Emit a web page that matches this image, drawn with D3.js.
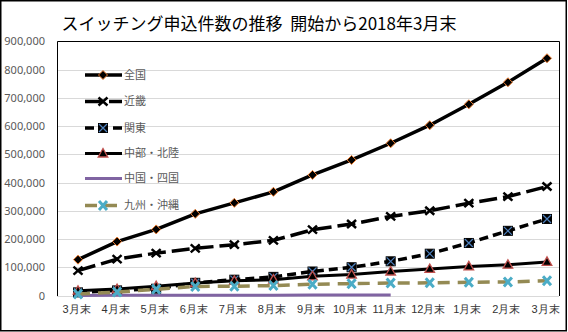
<!DOCTYPE html>
<html>
<head>
<meta charset="utf-8">
<script src="https://cdn.jsdelivr.net/npm/d3@7"></script>
<style>
  html, body { margin: 0; padding: 0; background: #fff; }
  svg { display: block; font-family: "Noto Sans CJK JP", "Noto Sans", sans-serif; }
</style>
</head>
<body>
<svg id="chart" width="568" height="332"></svg>
<script>
// months, end of each month
var months = ["3月末","4月末","5月末","6月末","7月末","8月末","9月末","10月末","11月末","12月末","1月末","2月末","3月末"];

var zenkoku   = [127000, 191000, 234000, 289000, 328000, 367000, 427000, 480000, 539000, 603000, 677000, 755000, 840000];
var kinki     = [88000, 129000, 150000, 167000, 180000, 195000, 233000, 253000, 280000, 300000, 327000, 350000, 386000];
var kanto     = [11000, 18000, 24000, 45000, 56000, 66000, 85000, 100000, 121000, 148000, 186000, 229000, 271000];
var chubu     = [17000, 23000, 33000, 44000, 52000, 56000, 68000, 74000, 85000, 94000, 103000, 109000, 119000];
var chugoku   = [300, 500, 700, 900, 1100, 1300, 1500, 1700, 1900, null, null, null, null];
var kyushu    = [5000, 12000, 22000, 32000, 33000, 35000, 40000, 42000, 44000, 45000, 47000, 48000, 52000];

var yTicks = [0, 100000, 200000, 300000, 400000, 500000, 600000, 700000, 800000, 900000];

var series = [
  {name: "全国",       values: zenkoku, color: "#000", width: 3.5, dash: null,   marker: "diamond"},
  {name: "近畿",       values: kinki,   color: "#000", width: 3.5, dash: "18,6", marker: "cross"},
  {name: "関東",       values: kanto,   color: "#000", width: 3.5, dash: "9,5",  marker: "square"},
  {name: "中部・北陸", values: chubu,   color: "#000", width: 3,   dash: null,   marker: "triangle"},
  {name: "中国・四国", values: chugoku, color: "#8064a2", width: 3, dash: null,  marker: null},
  {name: "九州・沖縄", values: kyushu,  color: "#948a54", width: 3.5, dash: "12,8", marker: "star"}
];

var svg = d3.select("#chart");
var plotL = 57, plotR = 559, plotT = 41.3, plotB = 295.5;

var x = d3.scalePoint().domain(d3.range(months.length)).range([78, 547]);
var y = d3.scaleLinear().domain([0, 900000]).range([plotB, plotT]);

// outer frame
svg.append("rect")
  .attr("x", 0.75).attr("y", 0.75).attr("width", 565.5).attr("height", 330)
  .attr("fill", "#fff").attr("stroke", "#000").attr("stroke-width", 1.5);

// title
svg.append("text")
  .attr("x", 259).attr("y", 30)
  .attr("text-anchor", "middle")
  .attr("font-size", 17)
  .attr("fill", "#000")
  .text("スイッチング申込件数の推移  開始から2018年3月末")
  .style("white-space", "pre");

// gridlines
svg.append("g")
  .selectAll("line")
  .data(yTicks)
  .enter()
  .append("line")
  .attr("x1", plotL).attr("x2", plotR)
  .attr("y1", d => Math.round(y(d)) + 0.5).attr("y2", d => Math.round(y(d)) + 0.5)
  .attr("stroke", "#d9d9d9").attr("stroke-width", 1);

// plot frame: top, left, right
svg.append("path")
  .attr("d", `M${plotL + 0.5},${Math.round(plotB)}V${Math.round(plotT) + 0.5}H${plotR + 0.5}V${Math.round(plotB)}`)
  .attr("fill", "none").attr("stroke", "#000").attr("stroke-width", 1);

// y axis labels
var yAxis = d3.axisLeft(y).tickValues(yTicks).tickSize(0).tickPadding(0)
  .tickFormat(d3.format(","));
var gy = svg.append("g").attr("transform", "translate(45,0)").call(yAxis);
gy.select(".domain").remove();
gy.selectAll("text")
  .attr("font-size", 11).attr("fill", "#595959")
  .attr("font-family", "'Noto Sans', sans-serif");

// x axis labels
var xAxis = d3.axisBottom(x).tickSize(0).tickPadding(0).tickFormat(i => months[i]);
var gx = svg.append("g").attr("transform", "translate(-2,305)").call(xAxis);
gx.select(".domain").remove();
gx.selectAll("text")
  .attr("font-size", 11).attr("fill", "#333");

// marker drawing
function drawMarker(g, type) {
  if (type == "diamond") {
    g.append("path").attr("d", "M0,-4.5L4.5,0L0,4.5L-4.5,0Z")
      .attr("fill", "#000").attr("stroke", "#ed7d31").attr("stroke-width", 1);
  } else if (type == "cross") {
    g.append("path").attr("d", "M-4.5,-4L4.5,4M-4.5,4L4.5,-4")
      .attr("stroke", "#000").attr("stroke-width", 2.5);
  } else if (type == "square") {
    g.append("rect").attr("x", -4.5).attr("y", -4.5).attr("width", 9).attr("height", 9)
      .attr("fill", "#000").attr("stroke", "#000").attr("stroke-width", 1);
    g.append("path").attr("d", "M-4,-4L4,4M-4,4L4,-4")
      .attr("stroke", "#4f81bd").attr("stroke-width", 1.2);
  } else if (type == "triangle") {
    g.append("path").attr("d", "M0,-5L4.8,3.5L-4.8,3.5Z")
      .attr("fill", "#000").attr("stroke", "#c0504d").attr("stroke-width", 1.3);
  } else if (type == "star") {
    g.append("path").attr("d", "M-4,-4.5L4,4.5M-4,4.5L4,-4.5")
      .attr("stroke", "#4bacc6").attr("stroke-width", 3);
  }
}

var line = d3.line()
  .defined(d => d != null)
  .x((d, i) => x(i))
  .y(d => y(d));

series.forEach(function(s) {
  var g = svg.append("g");
  g.append("path")
    .attr("d", line(s.values))
    .attr("fill", "none")
    .attr("stroke", s.color)
    .attr("stroke-width", s.width)
    .attr("stroke-dasharray", s.dash)
    .attr("stroke-linejoin", "round");
  if (s.marker) {
    g.selectAll(".mk")
      .data(s.values.map((v, i) => [i, v]).filter(d => d[1] != null))
      .enter()
      .append("g")
      .attr("transform", d => `translate(${x(d[0])},${y(d[1])})`)
      .each(function() { drawMarker(d3.select(this), s.marker); });
  }
});

// legend
var legend = svg.append("g").selectAll("g")
  .data(series)
  .enter()
  .append("g")
  .attr("transform", (d, i) => `translate(85,${[75, 101.5, 128, 153.5, 178.5, 205.5][i]})`);

legend.append("line")
  .attr("x1", 0).attr("x2", 37).attr("y1", 0).attr("y2", 0)
  .attr("stroke", d => d.color)
  .attr("stroke-width", d => d.width)
  .attr("stroke-dasharray", d => d.dash);

legend.each(function(d) {
  if (d.marker) {
    drawMarker(d3.select(this).append("g").attr("transform", "translate(18,0)"), d.marker);
  }
});

legend.append("text")
  .attr("x", 39).attr("y", 0).attr("dy", "0.35em")
  .attr("font-size", 11).attr("fill", "#595959")
  .text(d => d.name);
</script>
</body>
</html>
